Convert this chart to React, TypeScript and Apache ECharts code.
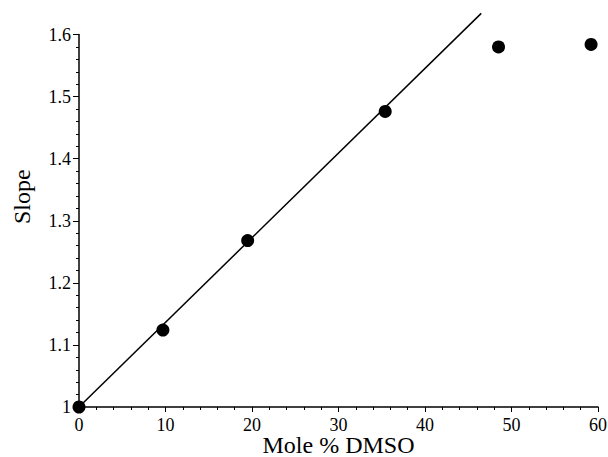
import React, { useEffect, useRef } from "react";
import * as echarts from "echarts";

const moleDMSO = [0, 9.7, 19.5, 35.4, 48.5, 59.2];
const slopeValues = [1.0, 1.124, 1.268, 1.476, 1.58, 1.584];
const fitX = [0, 46.5];
const fitY = [1.0, 1.634];
const xTicks = [0, 10, 20, 30, 40, 50, 60];
const yTicks = [1.0, 1.1, 1.2, 1.3, 1.4, 1.5, 1.6];

export default function App() {
  const ref = useRef<HTMLDivElement>(null);
  useEffect(() => {
    if (!ref.current) return;
    const chart = echarts.init(ref.current, null, { renderer: "svg" });
    const font = "Liberation Serif";
    chart.setOption({
      animation: false,
      backgroundColor: "#ffffff",
      grid: { left: 79, right: 10, top: 34.5, bottom: 50, containLabel: false, outerBoundsMode: "none" },
      xAxis: {
        type: "value",
        min: xTicks[0],
        max: xTicks[xTicks.length - 1],
        interval: 10,
        name: "Mole % DMSO",
        nameLocation: "middle",
        nameGap: 28,
        nameMoveOverlap: false,
        nameTextStyle: { fontFamily: font, fontSize: 24, lineHeight: 20, color: "#000" },
        axisLine: { show: true, lineStyle: { color: "#000", width: 1.5 } },
        axisTick: { show: true, inside: false, length: 5, lineStyle: { color: "#000" } },
        minorTick: { show: true, splitNumber: 5, length: 3, lineStyle: { color: "#000" } },
        axisLabel: { fontFamily: font, fontSize: 18, lineHeight: 14, color: "#000", margin: 11 },
        splitLine: { show: false },
      },
      yAxis: {
        type: "value",
        min: yTicks[0],
        max: yTicks[yTicks.length - 1],
        interval: 0.1,
        name: "Slope",
        nameLocation: "middle",
        nameGap: 45,
        nameMoveOverlap: false,
        nameRotate: 90,
        nameTextStyle: { fontFamily: font, fontSize: 24, color: "#000", padding: [0, 0, 0, 48] },
        axisLine: { show: true, lineStyle: { color: "#000", width: 1.5 } },
        axisTick: { show: true, inside: false, length: 6, lineStyle: { color: "#000" } },
        minorTick: { show: true, splitNumber: 5, length: 3, lineStyle: { color: "#000" } },
        axisLabel: { fontFamily: font, fontSize: 18, color: "#000", margin: 8 },
        splitLine: { show: false },
      },
      series: [
        {
          type: "line",
          data: fitX.map((x, i) => [x, fitY[i]]),
          showSymbol: false,
          clip: false,
          lineStyle: { color: "#000", width: 1.5 },
          z: 2,
        },
        {
          type: "scatter",
          data: moleDMSO.map((x, i) => [x, slopeValues[i]]),
          symbol: "circle",
          symbolSize: 13,
          clip: false,
          itemStyle: { color: "#000", opacity: 1 },
          z: 3,
        },
      ],
    });
    return () => chart.dispose();
  }, []);
  return <div ref={ref} style={{ width: 608, height: 457, position: "absolute", left: 0, top: 0 }} />;
}
